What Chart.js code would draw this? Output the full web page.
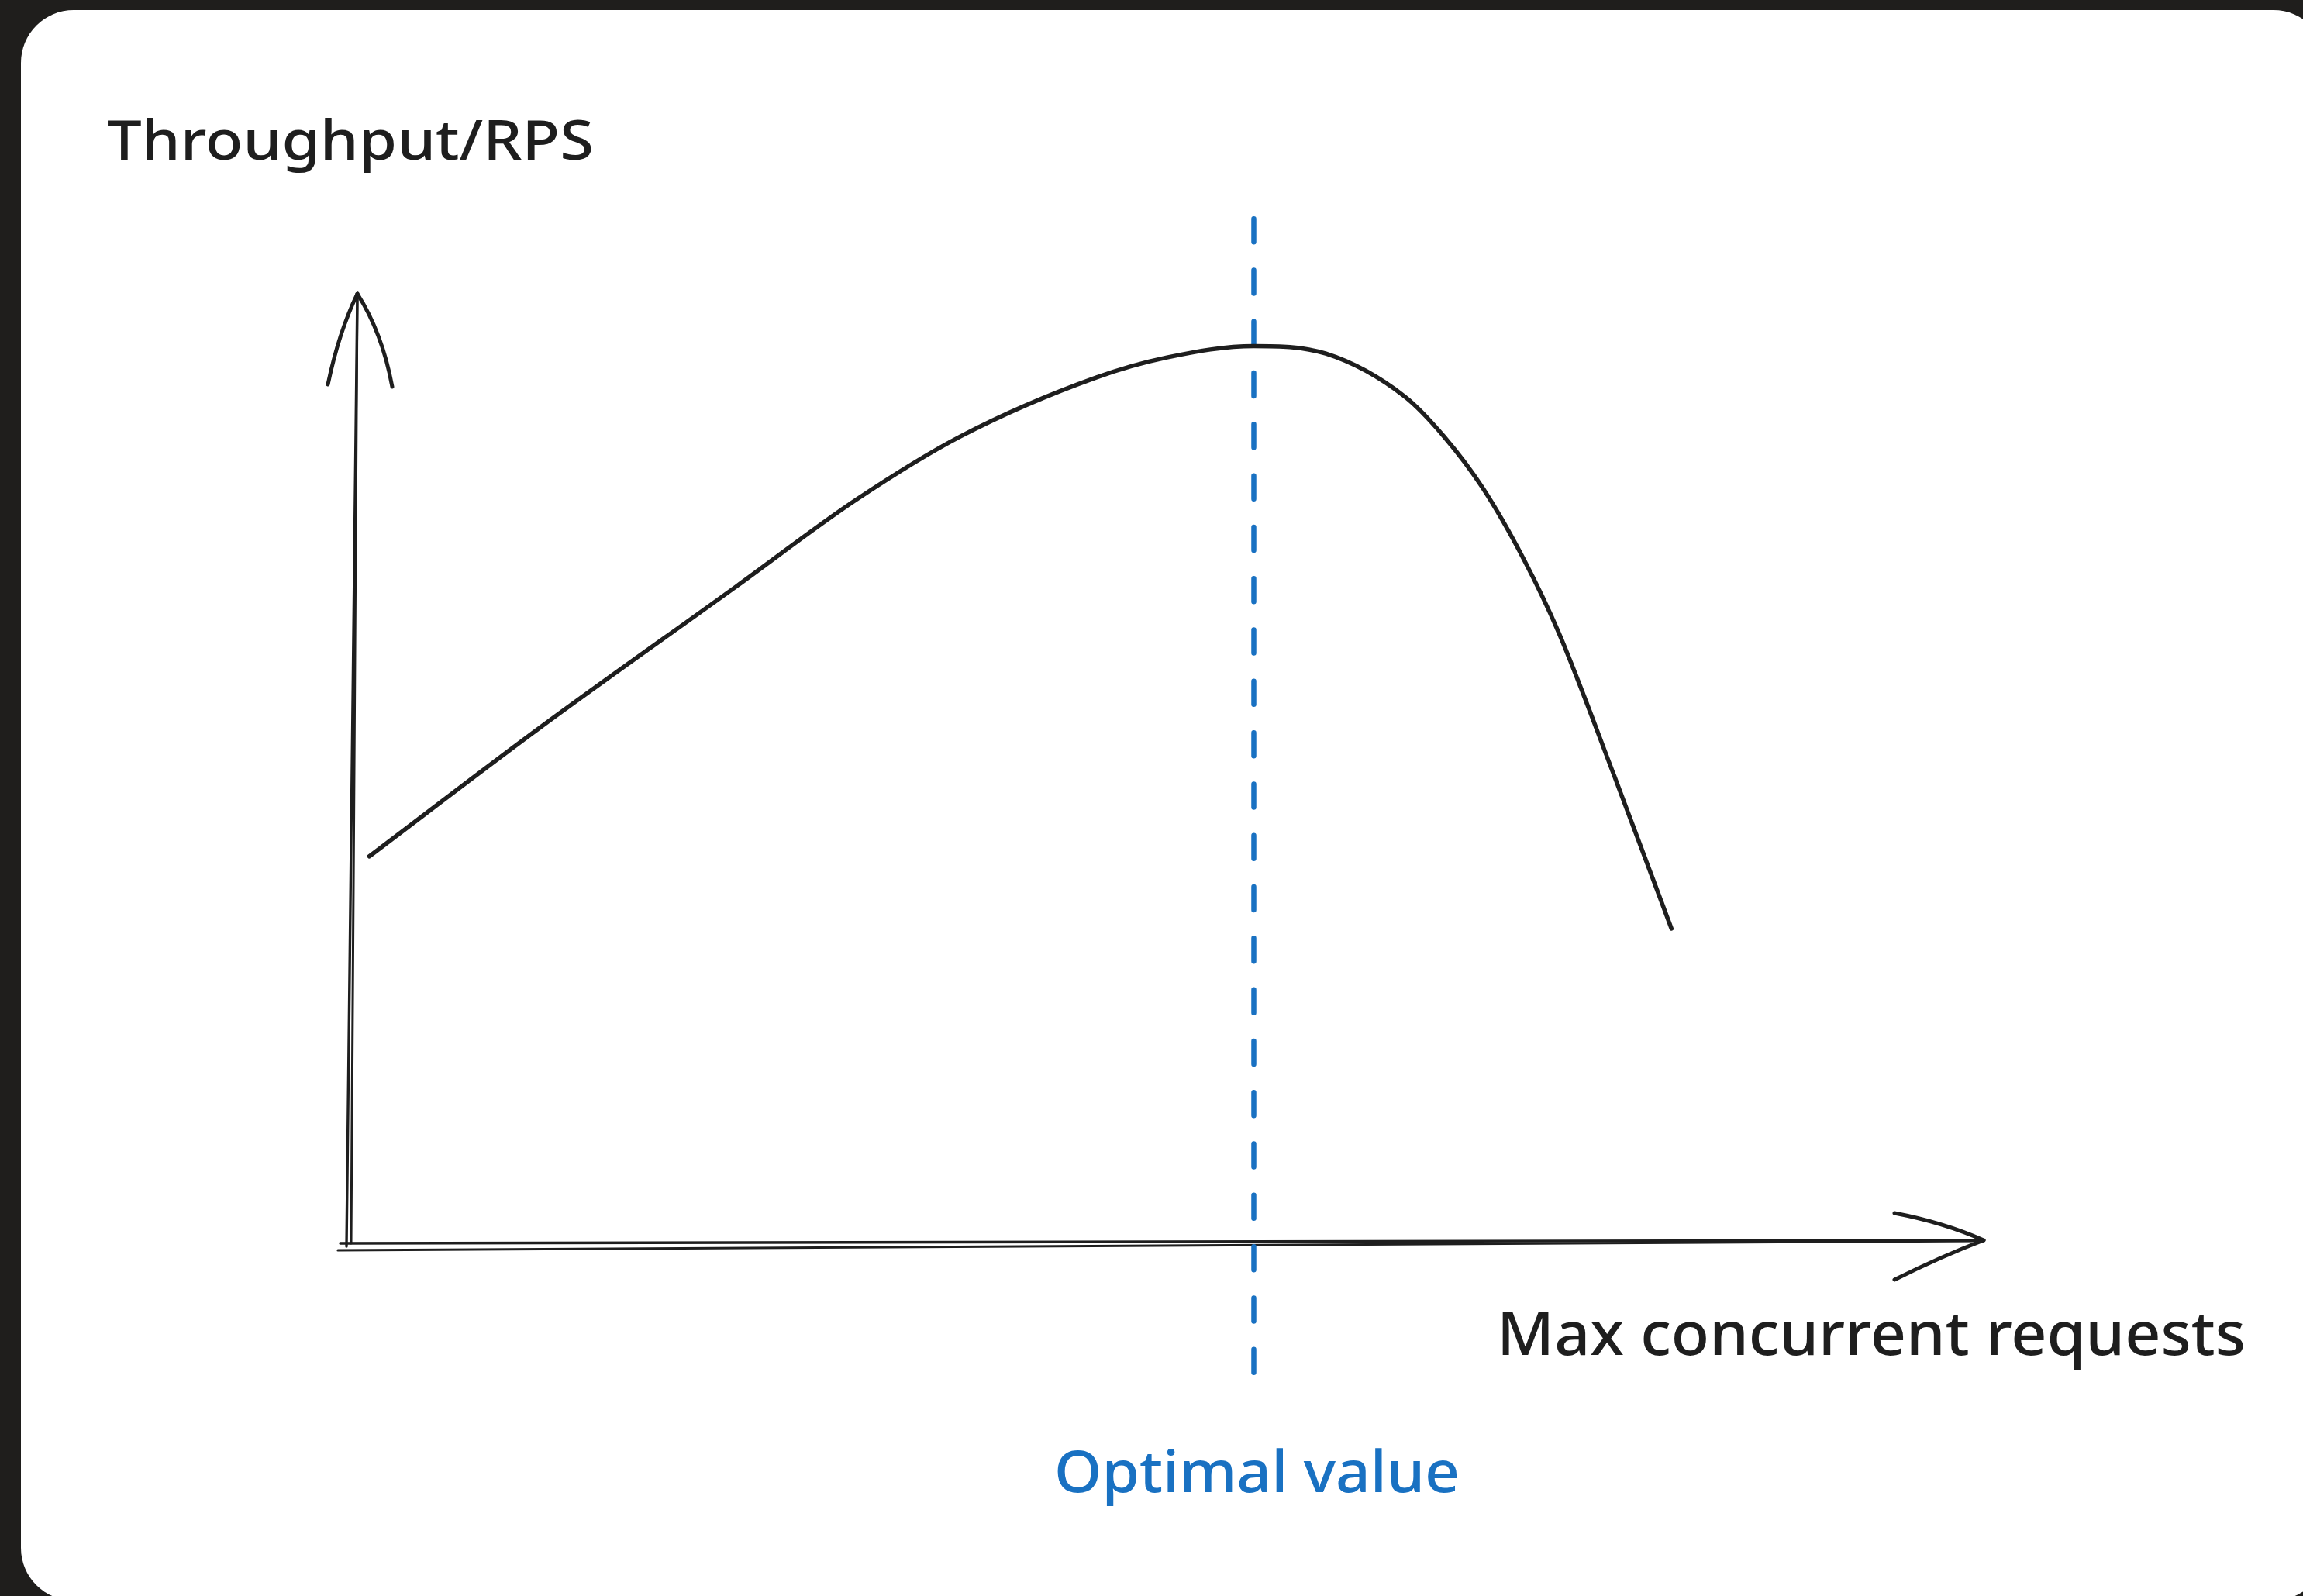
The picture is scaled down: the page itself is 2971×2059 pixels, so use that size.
<!DOCTYPE html>
<html>
<head>
<meta charset="utf-8">
<script src="https://cdn.jsdelivr.net/npm/chart.js@4/dist/chart.umd.min.js"></script>
<style>
  html, body { margin: 0; padding: 0; width: 2971px; height: 2059px; overflow: hidden; background: #1f1e1c; }
  #card { position: absolute; left: 27px; top: 13px; width: 2974px; height: 2052px; background: #ffffff; border-radius: 68px; }
  #chart { position: absolute; left: 0; top: 0; }
</style>
</head>
<body>
<div id="card"></div>
<canvas id="chart" width="2971" height="2059"></canvas>
<script>
// Throughput as a function of the concurrency limit
const concurrency = [1.3, 11.6, 23.7, 31.0, 37.4, 45.7, 50.0, 55.3, 59.7, 64.5, 66.9, 69.3, 71.8, 73.9, 77.3, 80.8];
const throughput  = [40.8, 54.2, 69.2, 78.3, 85.0, 91.2, 93.3, 94.5, 93.7, 89.2, 85.0, 79.5, 72.0, 64.4, 49.3, 33.2];

// Concurrency at the throughput peak, and the vertical span of its guide line
const optimalConcurrency = 55.3;
const guideExtent = [107.9, -15.1];

const yAxisLabel = 'Throughput/RPS';
const xAxisLabel = 'Max concurrent requests';
const optimalLabel = 'Optimal value';

const INK = '#1e1e1e';
const BLUE = '#1971c2';
const FONT = '"Noto Sans", "Open Sans", sans-serif';

// Draws text with a given cap height, stretched to a given width
function fittedText(ctx, text, x, baseline, capHeight, width, color, align) {
  const size = capHeight / 0.714;
  ctx.save();
  ctx.font = `500 ${size}px ${FONT}`;
  ctx.textBaseline = 'alphabetic';
  ctx.textAlign = 'left';
  const w = ctx.measureText(text).width;
  const sx = width / w;
  const left = align === 'center' ? x - width / 2 : x;
  ctx.translate(left, baseline);
  ctx.scale(sx, 1);
  ctx.fillStyle = color;
  ctx.fillText(text, 0, 0);
  ctx.restore();
}

function stroke(ctx, pts, width) {
  ctx.beginPath();
  ctx.moveTo(pts[0][0], pts[0][1]);
  if (pts.length === 3) ctx.quadraticCurveTo(pts[1][0], pts[1][1], pts[2][0], pts[2][1]);
  else ctx.lineTo(pts[1][0], pts[1][1]);
  ctx.lineWidth = width;
  ctx.stroke();
}

// Sketch-style axes with arrowheads, plus the text labels
const sketchAxes = {
  id: 'sketchAxes',
  beforeDatasetsDraw(chart) {
    const { ctx, chartArea: a, scales: { x, y } } = chart;
    const x0 = x.getPixelForValue(0);
    const y0 = y.getPixelForValue(0);
    const top = a.top;
    const right = a.right;
    ctx.save();
    ctx.strokeStyle = INK;
    ctx.lineCap = 'round';
    ctx.lineJoin = 'round';

    // vertical axis (double pencil stroke)
    stroke(ctx, [[x0 - 2, y0 + 3], [x0 + 12, top + 1]], 3.4);
    stroke(ctx, [[x0 + 4, y0 - 1], [x0 + 12, top + 1]], 3);
    // its arrowhead
    stroke(ctx, [[x0 - 26, top + 117], [x0 - 12, top + 50], [x0 + 12, top]], 5);
    stroke(ctx, [[x0 + 57, top + 120], [x0 + 44, top + 50], [x0 + 12, top]], 5);

    // horizontal axis (double pencil stroke)
    stroke(ctx, [[x0 - 10, y0 - 1], [right - 3, y0 - 5]], 3.4);
    stroke(ctx, [[x0 - 13, y0 + 8], [right - 3, y0 - 4]], 3.2);
    // its arrowhead
    stroke(ctx, [[right - 118, y0 - 40], [right - 55, y0 - 28], [right - 3, y0 - 5]], 5);
    stroke(ctx, [[right - 118, y0 + 46], [right - 58, y0 + 16], [right - 3, y0 - 5]], 5);
    ctx.restore();

    fittedText(ctx, yAxisLabel, a.left - 311, a.top - 173, 50, 628, INK, 'left');
    fittedText(ctx, xAxisLabel, a.right - 631, a.bottom + 143, 56, 966, INK, 'left');
    fittedText(ctx, optimalLabel, x.getPixelForValue(optimalConcurrency) + 4, a.bottom + 320, 53, 523, BLUE, 'center');
  }
};

new Chart(document.getElementById('chart'), {
  type: 'line',
  data: {
    datasets: [
      {
        label: 'Throughput',
        data: concurrency.map((c, i) => ({ x: c, y: throughput[i] })),
        borderColor: INK,
        borderWidth: 5.5,
        cubicInterpolationMode: 'monotone',
        pointRadius: 0,
        fill: false,
        borderCapStyle: 'round',
        borderJoinStyle: 'round',
        clip: false
      },
      {
        label: 'Optimal',
        data: guideExtent.map(v => ({ x: optimalConcurrency, y: v })),
        borderColor: BLUE,
        borderWidth: 6.5,
        borderDash: [30, 36.3],
        borderCapStyle: 'round',
        tension: 0,
        pointRadius: 0,
        fill: false,
        clip: false
      }
    ]
  },
  options: {
    responsive: false,
    animation: false,
    devicePixelRatio: 1,
    layout: { padding: { left: 449, right: 409, top: 379, bottom: 454 } },
    scales: {
      x: { type: 'linear', min: 0, max: 100, display: false },
      y: { type: 'linear', min: 0, max: 100, display: false }
    },
    plugins: {
      legend: { display: false },
      tooltip: { enabled: false }
    }
  },
  plugins: [sketchAxes]
});
</script>
</body>
</html>
